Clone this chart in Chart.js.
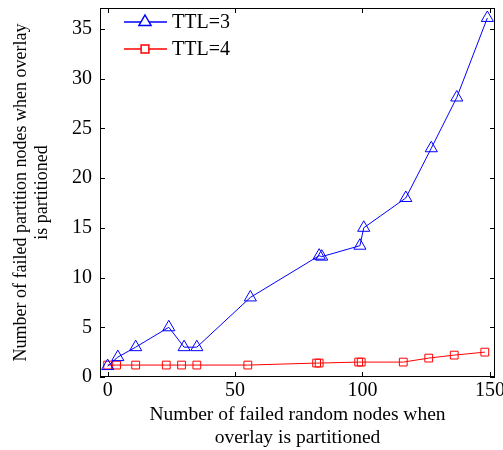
<!DOCTYPE html>
<html>
<head>
<meta charset="utf-8">
<script src="https://cdn.jsdelivr.net/npm/chart.js@4/dist/chart.umd.min.js"></script>
<style>
  html, body { margin: 0; padding: 0; background: #ffffff; }
  #wrap { width: 503px; height: 450px; }
</style>
</head>
<body>
<div id="wrap"><canvas id="myChart" width="503" height="450"></canvas></div>
<script>
// values
const seriesLabels = ["TTL=3", "TTL=4"];
const xTtl3 = [0, 4, 11, 24, 30, 35, 56, 83, 84, 99, 100.5, 117, 127, 137, 149];
const yTtl3 = [1.1, 2, 3, 5, 3, 3, 8, 12.2, 12.1, 13.2, 15, 18, 23, 28.1, 36.1];
const xTtl4 = [0, 3.5, 11, 23, 29, 35, 55, 82, 83, 98.5, 99.5, 116, 126, 136, 148];
const yTtl4 = [1.2, 1.2, 1.2, 1.2, 1.2, 1.2, 1.2, 1.4, 1.4, 1.5, 1.5, 1.5, 1.9, 2.2, 2.5];
const xTicks = [0, 50, 100, 150];
const yTicks = [0, 5, 10, 15, 20, 25, 30, 35];
const xTitle = ["Number of failed random nodes when", "overlay is partitioned"];
const yTitle = ["Number of failed partition nodes when overlay", "is partitioned"];

const serif = "'Liberation Serif', 'Times New Roman', serif";

const toPoints = (xs, ys) => xs.map((x, i) => ({ x: x, y: ys[i] }));

// keep the plot box exactly where the reference has it
const noOverhang = (scale) => {
  scale.paddingTop = 0;
  scale.paddingBottom = 0;
  scale.paddingLeft = 0;
  scale.paddingRight = 0;
};

// box around the plot with inward tick marks on all four sides
const boxPlugin = {
  id: "box",
  afterDraw(chart) {
    const c = chart.ctx;
    const a = chart.chartArea;
    const xs = chart.scales.x;
    const ys = chart.scales.y;
    const len = 5;
    c.save();
    c.strokeStyle = "#000000";
    c.lineWidth = 1;
    c.strokeRect(a.left + 0.5, a.top + 0.5, a.right - a.left - 1, a.bottom - a.top - 1);
    c.beginPath();
    xTicks.forEach((v) => {
      const px = Math.round(xs.getPixelForValue(v)) + 0.5;
      c.moveTo(px, a.bottom);
      c.lineTo(px, a.bottom - len);
      c.moveTo(px, a.top);
      c.lineTo(px, a.top + len);
    });
    yTicks.forEach((v) => {
      const py = Math.round(ys.getPixelForValue(v)) + 0.5;
      c.moveTo(a.left, py);
      c.lineTo(a.left + len, py);
      c.moveTo(a.right, py);
      c.lineTo(a.right - len, py);
    });
    c.stroke();

    // legend, top-left inside the plot
    chart.data.datasets.forEach((ds, i) => {
      const y = 22 + i * 27;
      const x0 = 124, x1 = 167, mx = 145;
      c.strokeStyle = ds.borderColor;
      c.lineWidth = 1.5;
      c.beginPath();
      c.moveTo(x0, y);
      c.lineTo(x1, y);
      c.stroke();
      c.fillStyle = "#ffffff";
      c.beginPath();
      if (ds.pointStyle === "triangle") {
        const r = ds.pointRadius;
        c.moveTo(mx, y - r);
        c.lineTo(mx + r * 0.866, y + r * 0.5);
        c.lineTo(mx - r * 0.866, y + r * 0.5);
        c.closePath();
      } else {
        const s = ds.pointRadius * Math.SQRT1_2;
        c.rect(mx - s, y - s, 2 * s, 2 * s);
      }
      c.fill();
      c.stroke();
      c.fillStyle = "#000000";
      c.font = "20px " + serif;
      c.textBaseline = "middle";
      c.textAlign = "left";
      c.fillText(ds.label, 172, y + 1);
    });
    c.restore();
  }
};

const ctx = document.getElementById("myChart");
const myChart = new Chart(ctx, {
  type: "line",
  data: {
    datasets: [
      {
        label: seriesLabels[0],
        data: toPoints(xTtl3, yTtl3),
        borderColor: "#0000ff",
        backgroundColor: "#0000ff",
        borderWidth: 1,
        pointStyle: "triangle",
        pointRadius: 7,
        pointBorderWidth: 1,
        pointBackgroundColor: "rgba(0,0,0,0)",
        pointBorderColor: "#0000ff",
        tension: 0
      },
      {
        label: seriesLabels[1],
        data: toPoints(xTtl4, yTtl4),
        borderColor: "#ff0000",
        backgroundColor: "#ff0000",
        borderWidth: 1,
        pointStyle: "rect",
        pointRadius: 5.5,
        pointBorderWidth: 1,
        pointBackgroundColor: "rgba(0,0,0,0)",
        pointBorderColor: "#ff0000",
        tension: 0
      }
    ]
  },
  options: {
    responsive: false,
    animation: false,
    layout: { padding: { top: 7, right: 6, left: 0, bottom: 0 } },
    plugins: {
      legend: { display: false },
      tooltip: { enabled: false }
    },
    scales: {
      x: {
        type: "linear",
        min: -3,
        max: 152,
        afterFit: (scale) => { scale.height = 73; noOverhang(scale); },
        afterBuildTicks: (scale) => { scale.ticks = xTicks.map((v) => ({ value: v })); },
        grid: { display: false, drawTicks: false },
        border: { display: false },
        ticks: {
          color: "#000000",
          padding: 2,
          maxRotation: 0,
          font: { family: serif, size: 20 }
        },
        title: {
          display: true,
          text: xTitle,
          color: "#000000",
          padding: { top: 0, bottom: 1 },
          font: { family: serif, size: 19.5, lineHeight: "23px" }
        }
      },
      y: {
        type: "linear",
        min: 0,
        max: 37.1,
        afterFit: (scale) => { scale.width = 100; noOverhang(scale); },
        afterBuildTicks: (scale) => { scale.ticks = yTicks.map((v) => ({ value: v })); },
        grid: { display: false, drawTicks: false },
        border: { display: false },
        ticks: {
          color: "#000000",
          padding: 8,
          font: { family: serif, size: 20 }
        },
        title: {
          display: true,
          text: yTitle,
          color: "#000000",
          padding: { top: 11, bottom: 0 },
          font: { family: serif, size: 18, lineHeight: "21px" }
        }
      }
    }
  },
  plugins: [boxPlugin]
});
</script>
</body>
</html>
